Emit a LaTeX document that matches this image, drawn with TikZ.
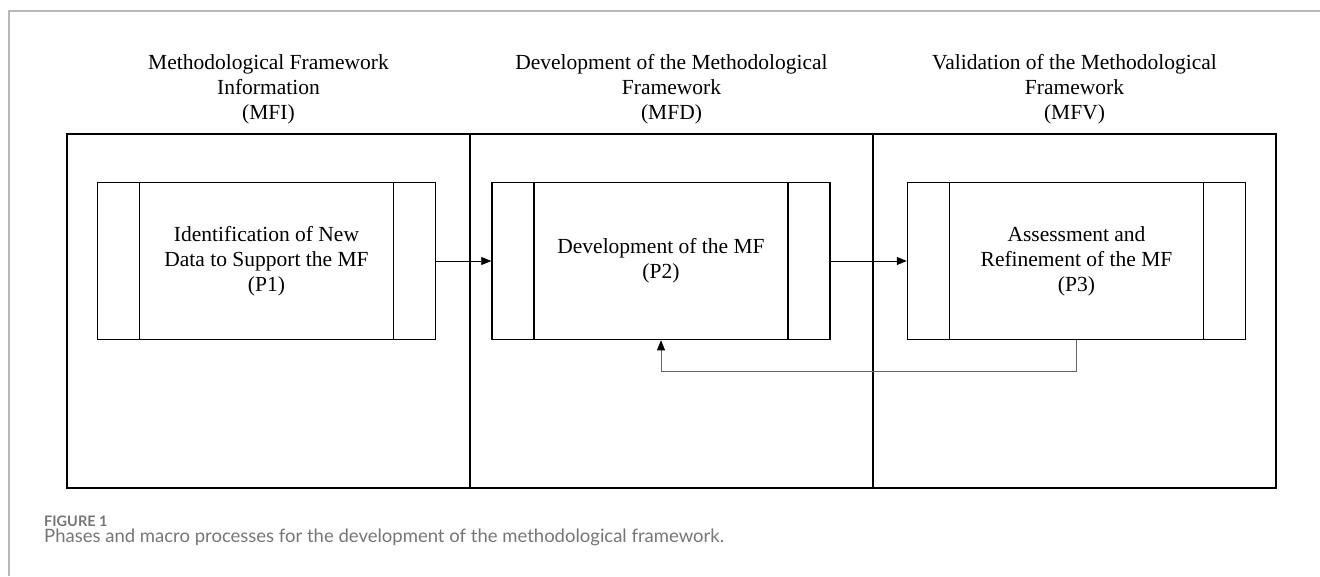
\documentclass[tikz,border=0pt]{standalone}
\usepackage{fontspec}
\setmainfont{Liberation Serif}
\newfontfamily\capfont{Lato}
\usetikzlibrary{positioning,arrows.meta}

\definecolor{framegray}{HTML}{B8B8B8}
\definecolor{capgray}{HTML}{767676}

\tikzset{
  phase/.style={draw, line width=1.5pt, minimum width=403pt, minimum height=354pt, inner sep=0pt, outer sep=0pt},
  phasetitle/.style={align=center, inner sep=0pt, font=\fontsize{21.5}{25}\selectfont},
  process/.style={draw, line width=1.5pt, minimum width=338pt, minimum height=157pt, inner sep=0pt,
    align=center, font=\fontsize{21.5}{25}\selectfont,
    path picture={
      \draw[line width=1.5pt] ([xshift=42pt]path picture bounding box.north west) -- ([xshift=42pt]path picture bounding box.south west)
        ([xshift=-42pt]path picture bounding box.north east) -- ([xshift=-42pt]path picture bounding box.south east);}},
  flow/.style={line width=0.8pt, -{Triangle[length=10pt,width=8pt,color=black]}},
  captext/.style={anchor=base west, inner sep=0pt, text=capgray},
}

\begin{document}
\begin{tikzpicture}[x=1pt, y=-1pt]

% Page size
\useasboundingbox (0,0) rectangle (1320,576);

% Figure frame
\draw[framegray, line width=1.5pt] (9,576) -- (9,11) -- (1320,11);

% Phases
\node[phase] (mfi) at (268.5,311) {};
\node[phase, right=0pt of mfi] (mfd) {};
\node[phase, right=0pt of mfd] (mfv) {};

\node[phasetitle, above=10pt of mfi] (mfititle) {Methodological Framework\\Information\\(MFI)};
\node[phasetitle, above=10pt of mfd] (mfdtitle) {Development of the Methodological\\Framework\\(MFD)};
\node[phasetitle, above=10pt of mfv] (mfvtitle) {Validation of the Methodological\\Framework\\(MFV)};

% Macro processes
\node[process] (p1) at (266.5,261) {Identification of New\\Data to Support the MF\\(P1)};
\node[process] (p2) at (661,261) {Development of the MF\\(P2)};
\node[process] (p3) at (1076.5,261) {Assessment and\\Refinement of the MF\\(P3)};

% Flow between processes
\draw[flow] (p1) -- (p2);
\draw[flow] (p2) -- (p3);
\draw[flow, draw=black!60] (p3.south) -- ++(0,31) -| (p2.south);

% Caption
\node[captext, font=\capfont\bfseries\fontsize{14.5}{16}\selectfont] (figlabel) at (44,526) {FIGURE 1};
\node[captext, font=\capfont\fontsize{18.5}{20}\selectfont] (figcaption) at (44,542) {Phases and macro processes for the development of the methodological framework.};
\end{tikzpicture}
\end{document}
